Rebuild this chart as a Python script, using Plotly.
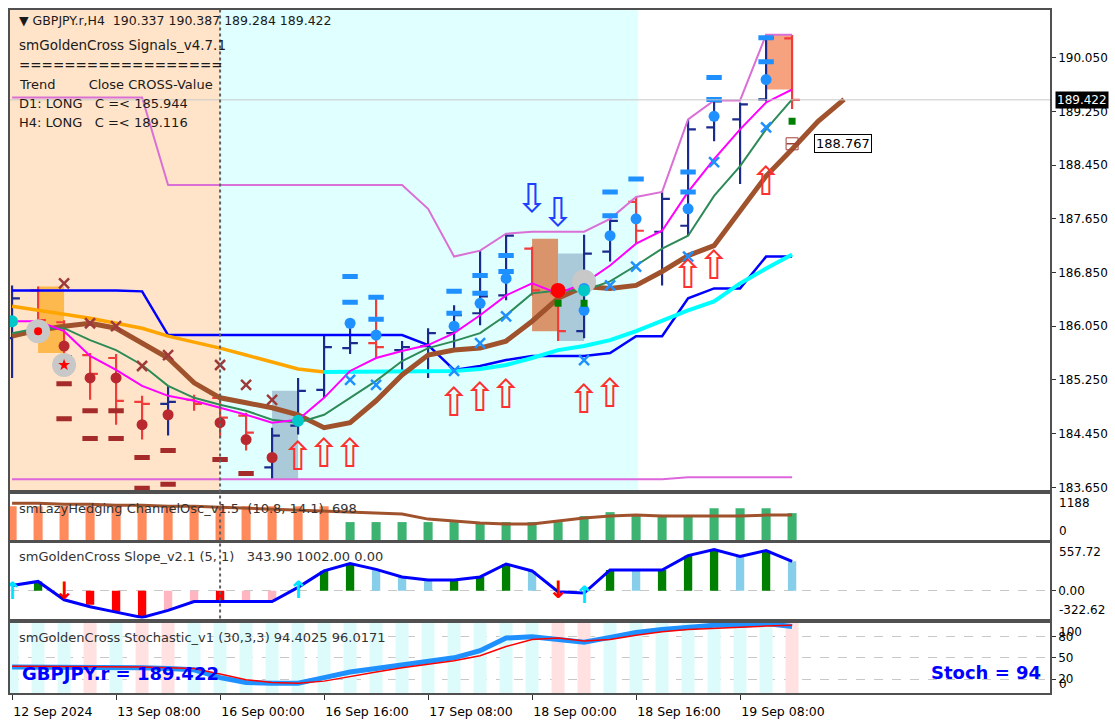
import plotly.graph_objects as go

# H4 bars, index 0 = 12 Sep 16:00
bar_idx = list(range(31))

opens = [185.872, 186.583, 186.109, 185.620, 185.576, 184.924, 184.894, 184.954, 184.983, 184.717,
         183.946, 184.569, 185.102, 185.724, 185.798, 185.694, 185.754, 185.946, 186.243, 186.509,
         187.206, 186.539, 185.976, 187.161, 187.902, 187.457, 187.546, 189.013, 189.131, 189.428, 190.337]
highs = [186.657, 186.643, 186.139, 185.650, 185.635, 185.013, 185.161, 185.028, 185.028, 184.761,
         184.539, 185.280, 185.917, 186.020, 186.509, 185.828, 186.020, 186.361, 187.176, 187.428,
         187.235, 186.569, 187.413, 187.650, 187.976, 188.050, 189.131, 189.428, 189.383, 190.391, 190.387]
lows = [185.280, 185.917, 185.457, 184.954, 184.583, 184.361, 184.420, 184.791, 184.391, 184.198,
        183.769, 184.435, 184.983, 185.635, 185.576, 185.324, 185.280, 185.724, 186.065, 186.435,
        186.509, 185.828, 185.872, 187.013, 187.280, 186.657, 187.398, 188.806, 188.169, 189.398, 189.284]
closes = [186.465, 186.139, 185.606, 185.339, 184.939, 184.894, 184.924, 184.894, 184.687, 184.465,
          184.420, 185.087, 185.739, 185.798, 185.739, 185.739, 185.946, 186.213, 186.494, 187.398,
          186.583, 185.976, 187.131, 187.620, 187.472, 187.946, 188.983, 189.398, 189.354, 190.346, 189.422]

ma_fast = [186.124, 186.124, 185.976, 185.606, 185.398, 185.161, 185.013, 184.939, 184.835, 184.731,
           184.613, 184.657, 184.983, 185.383, 185.576, 185.680, 185.769, 185.946, 186.213, 186.509,
           186.687, 186.539, 186.687, 186.954, 187.280, 187.472, 188.050, 188.539, 188.983, 189.383, 189.576]
ma_mid = [185.946, 186.020, 186.020, 185.843, 185.694, 185.472, 185.161, 184.983, 184.880, 184.791,
          184.657, 184.613, 184.731, 184.983, 185.235, 185.531, 185.724, 185.828, 185.946, 186.213,
          186.539, 186.583, 186.583, 186.717, 186.954, 187.206, 187.398, 187.991, 188.435, 188.983, 189.428]
ma_slow = [185.902, 185.991, 186.050, 186.094, 186.020, 185.798, 185.576, 185.206, 184.983, 184.909,
           184.835, 184.731, 184.539, 184.613, 184.939, 185.324, 185.620, 185.694, 185.724, 185.828,
           186.124, 186.465, 186.643, 186.613, 186.657, 186.865, 187.102, 187.250, 187.754, 188.287,
           188.687, 189.102, 189.428]
orange_x = list(range(13))
orange_line = [186.346, 186.287, 186.228, 186.169, 186.094, 186.020, 185.902, 185.813, 185.724, 185.620,
               185.517, 185.413, 185.369]
cyan_x = list(range(12, 31))
cyan_line = [185.369, 185.369, 185.369, 185.369, 185.369, 185.383, 185.413, 185.472, 185.576, 185.694,
             185.754, 185.843, 185.976, 186.139, 186.287, 186.420, 186.687, 186.909, 187.117]
blue_step = [186.583, 186.583, 186.583, 186.583, 186.583, 186.569, 185.917, 185.917, 185.917, 185.917,
             185.917, 185.917, 185.917, 185.917, 185.917, 185.917, 185.769, 185.398, 185.457, 185.546,
             185.606, 185.606, 185.606, 185.650, 185.902, 185.902, 186.465, 186.613, 186.613, 187.087, 187.087]
chan_top = [189.457, 189.457, 189.457, 189.457, 189.457, 189.457, 188.154, 188.154, 188.154, 188.154,
            188.154, 188.154, 188.154, 188.154, 188.154, 188.154, 187.798, 187.087, 187.176, 187.428,
            187.457, 187.457, 187.457, 187.650, 187.976, 188.050, 189.131, 189.413, 189.413, 190.391, 190.391]
chan_bot = [183.769, 183.769, 183.769, 183.769, 183.769, 183.769, 183.769, 183.769, 183.769, 183.769,
            183.769, 183.769, 183.769, 183.769, 183.769, 183.769, 183.769, 183.769, 183.769, 183.769,
            183.769, 183.769, 183.769, 183.769, 183.769, 183.769, 183.798, 183.798, 183.798, 183.798, 183.798]

# signal markers
up_arrow_x = [11, 12, 13, 17, 18, 19, 22, 23, 26, 27, 29]
up_arrow_y = [184.050, 184.094, 184.094, 184.865, 184.939, 184.983, 184.909, 184.998, 186.761, 186.909, 188.154]
dn_arrow_x = [20, 21]
dn_arrow_y = [187.902, 187.694]
blue_dot_x = [13, 14, 17, 18, 19, 22, 22, 23, 24, 26, 27, 29]
blue_dot_y = [186.094, 185.917, 186.050, 186.391, 186.761, 186.613, 186.287, 187.398, 187.650, 187.798, 189.176, 189.724]
blue_dash_x = [13, 13, 14, 14, 17, 17, 18, 18, 19, 19, 23, 23, 24, 26, 26, 27, 27, 29, 29]
blue_dash_y = [186.791, 186.406, 186.480, 186.154, 186.569, 186.243, 186.806, 186.539, 187.102, 186.865,
               188.050, 187.694, 188.243, 188.346, 188.050, 189.754, 189.428, 190.346, 189.991]
blue_x_x = [13, 14, 17, 18, 19, 22, 23, 24, 26, 27, 29]
blue_x_y = [185.250, 185.176, 185.383, 185.798, 186.198, 185.546, 186.657, 186.939, 187.087, 188.494, 189.013]
red_dot_x = [2, 3, 4, 5, 6, 8, 9, 10]
red_dot_y = [185.754, 185.280, 185.280, 184.583, 184.731, 184.613, 184.361, 184.094]
red_dash_x = [2, 2, 3, 3, 4, 4, 5, 5, 6, 6, 8, 9]
red_dash_y = [185.191, 184.672, 184.791, 184.376, 184.791, 184.376, 184.094, 183.635, 184.198, 183.694, 184.065, 183.857]
red_x_x = [2, 3, 4, 5, 6, 8, 9, 10]
red_x_y = [186.687, 186.094, 186.050, 185.457, 185.620, 185.472, 185.176, 184.954]
halo_x = [1, 2, 22]
halo_y = [185.976, 185.472, 186.717]
cross_dot_x = [0, 11, 22]
cross_dot_y = [186.124, 184.643, 186.583]
green_sq_x = [21, 22, 30]
green_sq_y = [186.391, 186.391, 189.102]

# highlighted bar ranges
box_x0 = [1, 10, 20, 21, 29]
box_x1 = [2, 11, 21, 22, 30]
box_lo = [185.650, 183.769, 185.976, 185.828, 189.576]
box_hi = [186.643, 185.087, 187.354, 187.131, 190.391]
box_colors = ["#FDB84E", "#AACAD9", "#D9946C", "#AACAD9", "#F6A27E"]

# sessions
zone_x0 = [-1, 8]
zone_x1 = [8, 24.08]
zone_colors = ["#FFE4C9", "#E0FFFF"]

# ChannelOsc panel
osc_hist = [878, 878, 878, 878, 878, 878, 878, 878, 878, 878, 878, 878, 878, 465, 465, 465, 465, 465, 465, 465,
            465, 465, 620, 723, 620, 620, 620, 827, 827, 827, 698]
osc_line = [956, 956, 930, 930, 904, 904, 878, 878, 852, 827, 801, 775, 749, 723, 697, 672, 542, 491, 439, 413,
            413, 491, 568, 620, 646, 620, 620, 620, 620, 646, 646]

# Slope panel
slope_hist = [0, 110, 0, -162, -243, -313, -232, -127, -127, -127, -127, 0, 232, 318, 243, 162, 127, 127, 162, 313,
              232, 0, 0, 243, 243, 243, 410, 480, 400, 470, 343.9]
slope_state = ["", "G", "", "R", "R", "R", "P", "P", "R", "P", "P", "", "G", "G", "B", "B", "B", "G", "G", "G",
               "B", "", "", "G", "B", "G", "G", "G", "B", "G", "B"]
slope_line = [63, 110, -104, -185, -248, -310, -227, -124, -124, -124, -124, 41, 232, 318, 250, 162, 127, 127, 162,
              313, 232, -10, -25, 243, 243, 243, 410, 480, 400, 470, 343.9]
slope_up_x = [0, 11, 22]
slope_up_y = [-30, -10, -70]
slope_dn_x = [2, 21]
slope_dn_y = [-20, -10]

# Stochastic panel
stoch_main = [37, 37, 37, 37, 36, 36, 35, 33, 22, 15, 14, 14, 22, 30, 35, 40, 44, 50, 60, 78,
              80, 76, 72, 79, 86, 90, 93, 96, 96, 98.5, 94.4025]
stoch_signal = [38, 38, 38, 37, 37, 37, 36, 35, 27, 19, 15, 14, 17, 24, 30, 36, 41, 46, 53, 66,
                76, 78, 74, 76, 82, 87, 90, 92, 93, 95, 96.0171]
stoch_band = ["c", "c", "c", "p", "c", "p", "p", "c", "c", "c", "c", "c", "c", "c", "c", "c", "c", "c", "c", "c",
              "c", "p", "p", "c", "c", "c", "c", "c", "c", "c", "p"]

price_ticks = [190.05, 189.25, 188.45, 187.65, 186.85, 186.05, 185.25, 184.45, 183.65]
time_ticks = [0, 4, 8, 12, 16, 20, 24, 28]
time_labels = ["12 Sep 2024", "13 Sep 08:00", "16 Sep 00:00", "16 Sep 16:00", "17 Sep 08:00",
               "18 Sep 00:00", "18 Sep 16:00", "19 Sep 08:00"]

FONT = "DejaVu Sans"


def marks(x, y, color, size, symbol="circle", yaxis="y", xaxis="x", lw=0):
    if symbol in ("line-ew", "x-thin"):
        m = dict(symbol=symbol, size=size, line=dict(color=color, width=lw))
    else:
        m = dict(symbol=symbol, size=size, color=color, line=dict(width=0))
    return go.Scatter(x=x, y=y, mode="markers", marker=m, xaxis=xaxis, yaxis=yaxis, hoverinfo="skip")


def line(x, y, color, width, yaxis="y", xaxis="x"):
    return go.Scatter(x=x, y=y, mode="lines", line=dict(color=color, width=width),
                      xaxis=xaxis, yaxis=yaxis, hoverinfo="skip")


fig = go.Figure()

fig.add_trace(go.Ohlc(
    x=bar_idx, open=opens, high=highs, low=lows, close=closes,
    increasing=dict(line=dict(color="#1B2A8C", width=2.2)),
    decreasing=dict(line=dict(color="#F23B3B", width=2.2)),
    tickwidth=0.3, hoverinfo="skip"
))
fig.add_trace(line(bar_idx, chan_top, "#DA70D6", 2))
fig.add_trace(line(bar_idx, chan_bot, "#DD66DD", 2))
fig.add_trace(line(bar_idx, blue_step, "#0000FF", 2.5))
fig.add_trace(line(orange_x, orange_line, "#FFA500", 3.5))
fig.add_trace(line(cyan_x, cyan_line, "#00FFFF", 4))
fig.add_trace(line(list(range(len(ma_slow))), ma_slow, "#A0522D", 5))
fig.add_trace(line(bar_idx, ma_mid, "#2E8B57", 2))
fig.add_trace(line(bar_idx, ma_fast, "#FF00FF", 2))

fig.add_trace(marks(halo_x, halo_y, "#C8C8C8", 24))
fig.add_trace(marks(red_dash_x, red_dash_y, "#A52A2A", 11, "line-ew", lw=5))
fig.add_trace(marks(red_dot_x, red_dot_y, "#B8282E", 11))
fig.add_trace(marks(red_x_x, red_x_y, "#9E3A3A", 10, "x-thin", lw=2.5))
fig.add_trace(marks(blue_dash_x, blue_dash_y, "#1E90FF", 11, "line-ew", lw=5))
fig.add_trace(marks(blue_dot_x, blue_dot_y, "#1E90FF", 11))
fig.add_trace(marks(blue_x_x, blue_x_y, "#1E90FF", 10, "x-thin", lw=2.5))
fig.add_trace(marks(cross_dot_x, cross_dot_y, "#00C8C8", 12))
fig.add_trace(marks([1], [185.976], "#FF0000", 8))
fig.add_trace(marks([2], [185.472], "#FF0000", 9, "star"))
fig.add_trace(marks([21], [186.583], "#FF0000", 15))
fig.add_trace(marks(green_sq_x, green_sq_y, "#008000", 7, "square"))
fig.add_trace(marks([30], [188.767], "#A0403A", 12, "square-open"))
fig.add_trace(marks([30], [188.767], "#A0403A", 8, "line-ew", lw=1.5))

fig.add_trace(go.Scatter(x=up_arrow_x, y=up_arrow_y, mode="text", text=["⇧"] * len(up_arrow_x),
                         textfont=dict(family=FONT, size=40, color="#FF3030"), hoverinfo="skip"))
fig.add_trace(go.Scatter(x=dn_arrow_x, y=dn_arrow_y, mode="text", text=["⇩"] * len(dn_arrow_x),
                         textfont=dict(family=FONT, size=40, color="#2040FF"), hoverinfo="skip"))

# ChannelOsc
fig.add_trace(go.Bar(x=bar_idx, y=osc_hist, width=0.35, xaxis="x2", yaxis="y2", hoverinfo="skip",
                     marker=dict(color=["#FF8A5C" if i < 13 else "#3CB371" for i in bar_idx], line=dict(width=0))))
fig.add_trace(line(bar_idx, osc_line, "#A0522D", 3, yaxis="y2", xaxis="x2"))

# Slope
slope_map = {"G": "#008000", "B": "#87CEEB", "R": "#FF0000", "P": "#FFB6C1", "": "rgba(0,0,0,0)"}
fig.add_trace(go.Bar(x=bar_idx, y=slope_hist, width=0.32, xaxis="x3", yaxis="y3", hoverinfo="skip",
                     marker=dict(color=[slope_map[s] for s in slope_state], line=dict(width=0))))
fig.add_trace(line(bar_idx, slope_line, "#0000FF", 3, yaxis="y3", xaxis="x3"))
fig.add_trace(go.Scatter(x=slope_up_x, y=slope_up_y, mode="text", text=["↑"] * 3, xaxis="x3", yaxis="y3",
                         textfont=dict(family=FONT, size=24, color="#00E5FF", weight="bold"), hoverinfo="skip"))
fig.add_trace(go.Scatter(x=slope_dn_x, y=slope_dn_y, mode="text", text=["↓"] * 2, xaxis="x3", yaxis="y3",
                         textfont=dict(family=FONT, size=24, color="#FF0000", weight="bold"), hoverinfo="skip"))

# Stochastic
band_map = {"c": "#DDFBFB", "p": "#FFE1E1"}
fig.add_trace(go.Bar(x=bar_idx, y=[100] * 31, width=0.5, xaxis="x4", yaxis="y4", hoverinfo="skip",
                     marker=dict(color=[band_map[s] for s in stoch_band], line=dict(width=0))))
fig.add_trace(line(bar_idx, stoch_main, "#1E90FF", 5, yaxis="y4", xaxis="x4"))
fig.add_trace(line(bar_idx, stoch_signal, "#FF0000", 1.5, yaxis="y4", xaxis="x4"))

shapes = []
for x0, x1, c in zip(zone_x0, zone_x1, zone_colors):
    shapes.append(dict(type="rect", xref="x", yref="y domain", x0=x0, x1=x1, y0=0, y1=1,
                       fillcolor=c, line=dict(width=0), layer="below"))
for x0, x1, lo, hi, c in zip(box_x0, box_x1, box_lo, box_hi, box_colors):
    shapes.append(dict(type="rect", xref="x", yref="y", x0=x0, x1=x1, y0=lo, y1=hi,
                       fillcolor=c, line=dict(width=0), layer="below"))
shapes.append(dict(type="line", xref="x domain", yref="y", x0=0, x1=1, y0=closes[-1], y1=closes[-1],
                   line=dict(color="#C8C8C8", width=1)))
shapes.append(dict(type="line", xref="x", yref="paper", x0=8, x1=8, y0=1 - 622 / 721, y1=1 - 10 / 721,
                   line=dict(color="#606060", width=2, dash="dot")))

ax = dict(showline=True, mirror=True, linecolor="#505050", linewidth=1.5, zeroline=False, showgrid=False)
xdom = [10 / 1115, 1050 / 1115]
xr = [-0.08, 39.92]
tickfont = dict(family=FONT, size=12, color="#000000")

fig.update_layout(
    width=1115, height=721, autosize=False,
    margin=dict(l=0, r=0, t=0, b=0),
    paper_bgcolor="white", plot_bgcolor="white",
    showlegend=False, barmode="overlay",
    font=dict(family=FONT, size=12, color="#000000"),
    shapes=shapes,
    xaxis=dict(domain=xdom, range=xr, anchor="y", showticklabels=False, rangeslider=dict(visible=False), **ax),
    xaxis2=dict(domain=xdom, matches="x", anchor="y2", showticklabels=False, **ax),
    xaxis3=dict(domain=xdom, matches="x", anchor="y3", showticklabels=False, **ax),
    xaxis4=dict(domain=xdom, matches="x", anchor="y4", tickvals=time_ticks, ticktext=time_labels,
                ticks="outside", ticklen=5, tickcolor="#303030", ticklabelposition="outside right",
                ticklabelstandoff=6,
                tickfont=dict(family=FONT, size=12.5, color="#000000"), **ax),
    yaxis=dict(domain=[1 - 493 / 721, 1 - 10 / 721], range=[183.606, 190.761], anchor="x", side="right",
               tickvals=price_ticks, tickformat=".3f", ticks="outside", ticklen=4, tickcolor="#303030",
               tickfont=tickfont, **ax),
    yaxis2=dict(domain=[1 - 543 / 721, 1 - 497 / 721], range=[0, 1188], anchor="x2", side="right",
                showticklabels=False, **ax),
    yaxis3=dict(domain=[1 - 622 / 721, 1 - 546 / 721], range=[-322.62, 557.72], anchor="x3", side="right",
                tickvals=[0], ticktext=["0.00"], ticks="outside", ticklen=4, tickcolor="#303030",
                tickfont=tickfont, showline=True, mirror=True, linecolor="#505050", linewidth=1.5,
                zeroline=False, showgrid=True, gridcolor="#C8C8C8", griddash="dash"),
    yaxis4=dict(domain=[1 - 697 / 721, 1 - 626 / 721], range=[0, 100], anchor="x4", side="right",
                tickvals=[20, 50, 80], ticks="outside", ticklen=4, tickcolor="#303030",
                tickfont=tickfont, showline=True, mirror=True, linecolor="#505050", linewidth=1.5,
                zeroline=False, showgrid=True, gridcolor="#C8C8C8", griddash="dash"),
)

ann = []
header = [
    ("▼ GBPJPY.r,H4  190.337 190.387 189.284 189.422", 21, 12.5),
    ("smGoldenCross Signals_v4.7.1", 45, 13.5),
    ("==================", 65, 13.5),
    ("Trend        Close CROSS-Value", 85, 13),
    ("D1: LONG   C =< 185.944", 104, 13),
    ("H4: LONG   C =< 189.116", 123, 13),
]
for txt, ypx, fs in header:
    ann.append(dict(text=txt, xref="paper", yref="paper", x=17 / 1115, y=1 - ypx / 721,
                    xanchor="left", yanchor="middle", showarrow=False,
                    font=dict(family=FONT, size=fs, color="#1A1A1A")))

titles = [
    ("smLazyHedging ChannelOsc_v1.5  (10.8, 14.1)  698", 511),
    ("smGoldenCross Slope_v2.1 (5, 1)   343.90 1002.00 0.00", 560),
    ("smGoldenCross Stochastic_v1 (30,3,3) 94.4025 96.0171", 641),
]
for txt, ypx in titles:
    ann.append(dict(text=txt, xref="paper", yref="paper", x=17 / 1115, y=1 - ypx / 721,
                    xanchor="left", yanchor="middle", showarrow=False,
                    font=dict(family=FONT, size=13, color="#333333")))

edge_labels = [("1188", 1188, "y2", "top"), ("0", 0, "y2", "bottom"),
               ("557.72", 557.72, "y3", "top"), ("-322.62", -322.62, "y3", "bottom"),
               ("100", 100, "y4", "top"), ("0", 0, "y4", "bottom")]
for txt, v, yr, anc in edge_labels:
    ann.append(dict(text=txt, xref="paper", yref=yr, x=1057 / 1115, y=v, xanchor="left", yanchor=anc,
                    showarrow=False, font=tickfont))

ann.append(dict(text="%.3f" % closes[-1], xref="paper", yref="y", x=1055 / 1115, y=closes[-1],
                xanchor="left", yanchor="middle", showarrow=False, bgcolor="#000000", borderpad=1,
                font=dict(family=FONT, size=12, color="#FFFFFF")))
ann.append(dict(text="188.767", xref="x", yref="y", x=30.85, y=188.767, xanchor="left", yanchor="middle",
                showarrow=False, bgcolor="#FFFFFF", bordercolor="#000000", borderwidth=1, borderpad=1,
                font=dict(family=FONT, size=13, color="#000000")))
ann.append(dict(text="<b>GBPJPY.r = 189.422</b>", xref="paper", yref="paper", x=20 / 1115, y=1 - 677 / 721,
                xanchor="left", yanchor="middle", showarrow=False,
                font=dict(family=FONT, size=18, color="#0000FF")))
ann.append(dict(text="<b>Stoch = 94</b>", xref="paper", yref="paper", x=1043 / 1115, y=1 - 676 / 721,
                xanchor="right", yanchor="middle", showarrow=False,
                font=dict(family=FONT, size=18, color="#0000FF")))
fig.update_layout(annotations=ann)

fig.write_html("out.html", config={"displayModeBar": False},
               post_script="document.body.style.margin='0px';")
